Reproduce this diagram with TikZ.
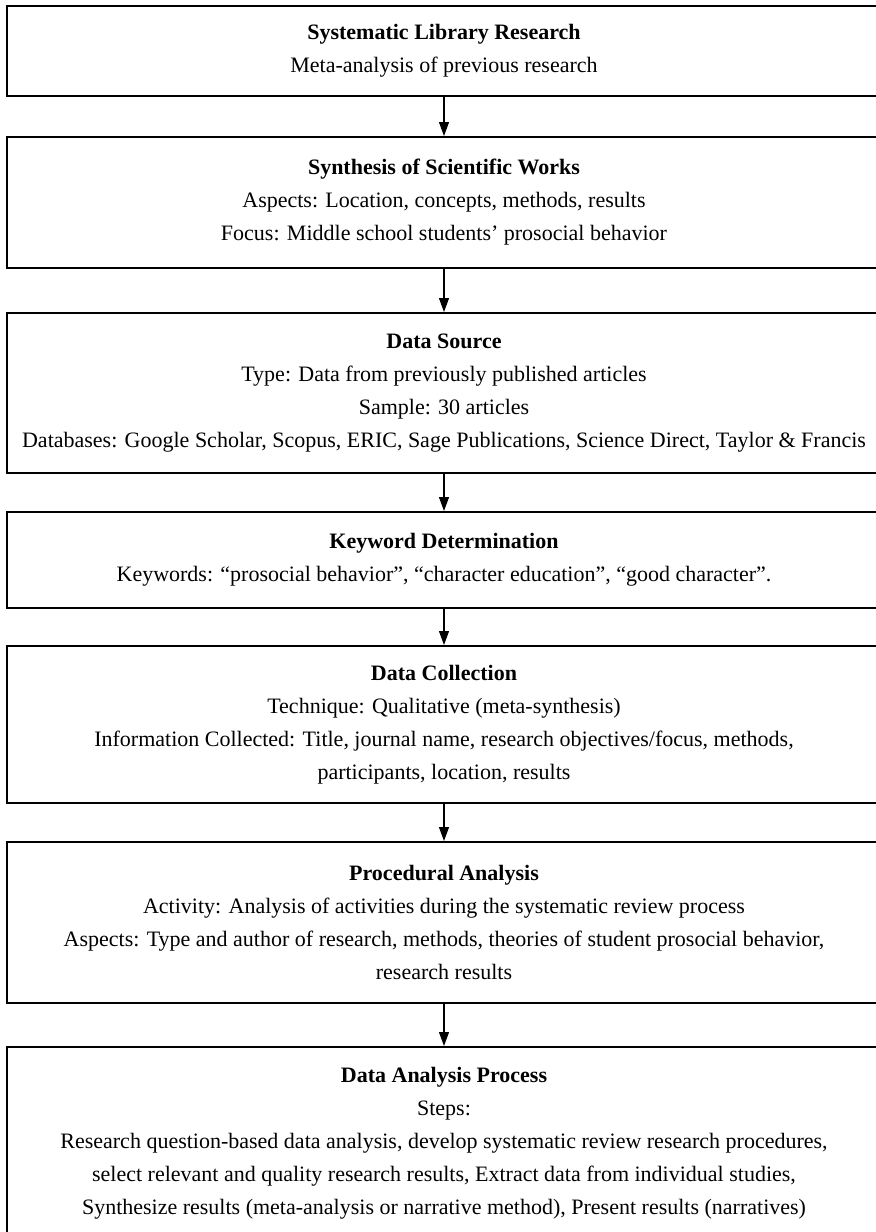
\documentclass[tikz,border=0pt]{standalone}
\usepackage{fontspec}
\setmainfont{Liberation Serif}
\usetikzlibrary{arrows.meta}

\begin{document}
\begin{tikzpicture}[x=0.5pt,y=-0.5pt,>={Triangle[length=7pt,width=5pt]},
  stepbox/.style={draw,line width=1pt,minimum width=437pt,inner sep=0pt,align=center,
    font=\fontsize{11}{16.5}\selectfont},
  flow/.style={->,line width=0.6pt}]
  \useasboundingbox (0,0) rectangle (875,1232);
  \node[stepbox,minimum height=45pt] (lib) at (444,51)
    {\textbf{Systematic Library Research}\\Meta-analysis of previous research};
  \node[stepbox,minimum height=65.5pt] (syn) at (444,202.5)
    {\textbf{Synthesis of Scientific Works}\\Aspects: Location, concepts, methods, results\\
     Focus: Middle school students’ prosocial behavior};
  \node[stepbox,minimum height=80pt] (src) at (444,393)
    {\textbf{Data Source}\\Type: Data from previously published articles\\Sample: 30 articles\\
     Databases: Google Scholar, Scopus, ERIC, Sage Publications, Science Direct, Taylor \& Francis};
  \node[stepbox,minimum height=48pt] (key) at (444,560)
    {\textbf{Keyword Determination}\\
     Keywords: “prosocial behavior”, “character education”, “good character”.};
  \node[stepbox,minimum height=78.5pt] (col) at (444,724.5)
    {\textbf{Data Collection}\\Technique: Qualitative (meta-synthesis)\\
     Information Collected: Title, journal name, research objectives/focus, methods,\\
     participants, location, results};
  \node[stepbox,minimum height=80.5pt] (proc) at (444,922.5)
    {\textbf{Procedural Analysis}\\Activity: Analysis of activities during the systematic review process\\
     Aspects: Type and author of research, methods, theories of student prosocial behavior,\\
     research results};
  \node[stepbox,minimum height=96.5pt] (ana) at (444,1143.5)
    {\textbf{Data Analysis Process}\\Steps:\\
     Research question-based data analysis, develop systematic review research procedures,\\
     select relevant and quality research results, Extract data from individual studies,\\
     Synthesize results (meta-analysis or narrative method), Present results (narratives)};
  % arrows between the steps
  \draw[flow] (lib) -- (syn);
  \draw[flow] (syn) -- (src);
  \draw[flow] (src) -- (key);
  \draw[flow] (key) -- (col);
  \draw[flow] (col) -- (proc);
  \draw[flow] (proc) -- (ana);
\end{tikzpicture}
\end{document}
